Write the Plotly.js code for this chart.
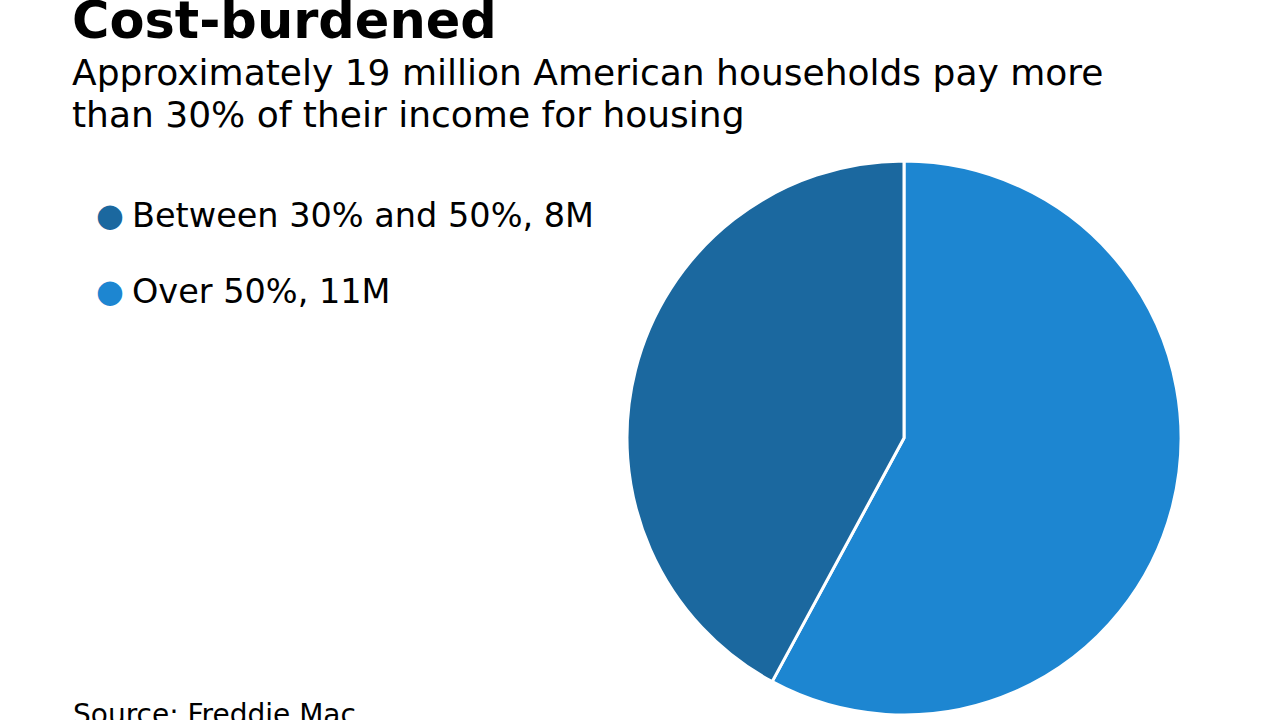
<!DOCTYPE html>
<html><head><meta charset="utf-8">
<script src="https://cdn.plot.ly/plotly-3.0.1.min.js"></script>
<style>html,body{margin:0;padding:0;background:#fff}#chart{width:1280px;height:720px}</style>
</head><body><div id="chart"></div>
<script>
const categories = ["Over 50%, 11M", "Between 30% and 50%, 8M"];
const values = [11, 8];
const colors = ["#1d86d1", "#1b689f"];
const legendOrder = ["Between 30% and 50%, 8M", "Over 50%, 11M"];
const legendColors = ["#1b689f", "#1d86d1"];
const titleText = "Cost-burdened";
const subtitleLines = ["Approximately 19 million American households pay more", "than 30% of their income for housing"];
const sourceText = "Source: Freddie Mac";

const FONT = "'DejaVu Sans', sans-serif";

const trace = {
  type: "pie",
  labels: categories,
  values: values,
  sort: false,
  direction: "clockwise",
  rotation: 0,
  marker: {colors: colors, line: {color: "#ffffff", width: 3}},
  textinfo: "none",
  hoverinfo: "label",
  showlegend: false,
  domain: {x: [0.4898, 0.9227], y: [0.0069, 0.7764]}
};

const annotations = [
  {text: "<b>" + titleText + "</b>", x: 70/1280, y: 1 - 20/720, xref: "paper", yref: "paper",
   xanchor: "left", yanchor: "middle", showarrow: false, font: {family: FONT, size: 51, color: "#000"}},
  {text: sourceText, x: 71/1280, y: 1 - 714/720, xref: "paper", yref: "paper",
   xanchor: "left", yanchor: "middle", showarrow: false, font: {family: FONT, size: 28, color: "#000"}}
];
subtitleLines.forEach((line, i) => {
  annotations.push({text: line, x: 70/1280, y: 1 - (73 + i * 41)/720, xref: "paper", yref: "paper",
    xanchor: "left", yanchor: "middle", showarrow: false, font: {family: FONT, size: 36, color: "#000"}});
});
legendOrder.forEach((lab, i) => {
  const yc = 215 + i * 76;
  annotations.push({text: "●", x: 110/1280, y: 1 - yc/720, xref: "paper", yref: "paper",
    xanchor: "center", yanchor: "middle", showarrow: false, font: {family: FONT, size: 32, color: legendColors[i]}});
  annotations.push({text: lab, x: 130/1280, y: 1 - yc/720, xref: "paper", yref: "paper",
    xanchor: "left", yanchor: "middle", showarrow: false, font: {family: FONT, size: 33.5, color: "#000"}});
});

Plotly.newPlot("chart", [trace], {
  width: 1280, height: 720,
  margin: {l: 0, r: 0, t: 0, b: 0},
  paper_bgcolor: "#fff", plot_bgcolor: "#fff",
  showlegend: false,
  annotations: annotations
}, {displayModeBar: false, staticPlot: true});
</script></body></html>
